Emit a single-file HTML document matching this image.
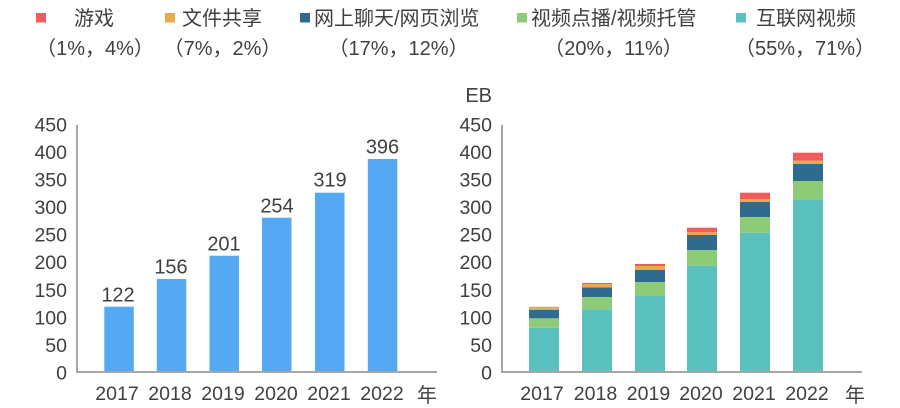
<!DOCTYPE html>
<html><head><meta charset="utf-8"><style>
html,body{margin:0;padding:0;background:#fff;}
svg{display:block;}
text{font-family:"Liberation Sans","Noto Sans CJK SC",sans-serif;fill:#404040;}
</style></head><body>
<svg width="900" height="408" viewBox="0 0 900 408" xmlns="http://www.w3.org/2000/svg">
<!-- Legend -->
<rect x="36" y="13" width="10" height="9.5" fill="#F05B5B"/>
<rect x="165" y="13" width="10" height="9.5" fill="#EBA94B"/>
<rect x="300" y="13" width="10" height="9.5" fill="#2F6B8F"/>
<rect x="517" y="13" width="10" height="9.5" fill="#8ECB78"/>
<rect x="736" y="13" width="10" height="9.5" fill="#5BC1BF"/>
<g font-size="20">
<text x="74" y="25">游戏</text>
<text x="182" y="25">文件共享</text>
<text x="314" y="25">网上聊天/网页浏览</text>
<text x="531" y="25">视频点播/视频托管</text>
<text x="756" y="25">互联网视频</text>
<text x="95" y="55" text-anchor="middle">（1%，4%）</text>
<text x="222.5" y="55" text-anchor="middle">（7%，2%）</text>
<text x="398.5" y="55" text-anchor="middle">（17%，12%）</text>
<text x="613.5" y="55" text-anchor="middle">（20%，11%）</text>
<text x="805" y="55" text-anchor="middle">（55%，71%）</text>
</g>

<!-- Left chart -->
<g fill="#55A9F2">
<rect x="104.3" y="306.7" width="29.5" height="65.3"/>
<rect x="156.8" y="279" width="29.5" height="93"/>
<rect x="209.5" y="255.7" width="29.5" height="116.3"/>
<rect x="262" y="217.7" width="29.5" height="154.3"/>
<rect x="315" y="192.7" width="29.5" height="179.3"/>
<rect x="367.8" y="159" width="29.5" height="213"/>
</g>
<g stroke="#A6A6A6" stroke-width="2" fill="none">
<line x1="77" y1="125" x2="77" y2="373"/>
<line x1="76" y1="372" x2="437" y2="372"/>
</g>
<g font-size="20" text-anchor="middle">
<text x="118" y="301.5">122</text>
<text x="171" y="273.5">156</text>
<text x="224" y="250.5">201</text>
<text x="277" y="212.3">254</text>
<text x="330" y="186.7">319</text>
<text x="382.5" y="153.5">396</text>
</g>
<g font-size="19.5" text-anchor="end">
<text x="67" y="131.5">450</text>
<text x="67" y="159">400</text>
<text x="67" y="186.6">350</text>
<text x="67" y="214.1">300</text>
<text x="67" y="241.7">250</text>
<text x="67" y="269.2">200</text>
<text x="67" y="296.8">150</text>
<text x="67" y="324.3">100</text>
<text x="67" y="351.9">50</text>
<text x="67" y="379.5">0</text>
</g>
<g font-size="19.5" text-anchor="middle">
<text x="117" y="400">2017</text>
<text x="170" y="400">2018</text>
<text x="223" y="400">2019</text>
<text x="276" y="400">2020</text>
<text x="329" y="400">2021</text>
<text x="382" y="400">2022</text>
</g>
<text x="417" y="402" font-size="20">年</text>

<!-- Right chart -->
<!-- 2017 -->
<rect x="529" y="327.7" width="30" height="44.3" fill="#5BC1BF"/>
<rect x="529" y="318.3" width="30" height="9.4" fill="#8ECB78"/>
<rect x="529" y="310" width="30" height="8.3" fill="#2F6B8F"/>
<rect x="529" y="306.7" width="30" height="3.3" fill="#EBA94B"/>
<!-- 2018 -->
<rect x="582" y="309.3" width="30" height="62.7" fill="#5BC1BF"/>
<rect x="582" y="297" width="30" height="12.3" fill="#8ECB78"/>
<rect x="582" y="287.3" width="30" height="9.7" fill="#2F6B8F"/>
<rect x="582" y="284" width="30" height="3.3" fill="#EBA94B"/>
<rect x="582" y="283" width="30" height="1" fill="#F05B5B"/>
<!-- 2019 -->
<rect x="635" y="296" width="30" height="76" fill="#5BC1BF"/>
<rect x="635" y="282" width="30" height="14" fill="#8ECB78"/>
<rect x="635" y="270" width="30" height="12" fill="#2F6B8F"/>
<rect x="635" y="266" width="30" height="4" fill="#EBA94B"/>
<rect x="635" y="264" width="30" height="2" fill="#F05B5B"/>
<!-- 2020 -->
<rect x="687" y="265.7" width="30" height="106.3" fill="#5BC1BF"/>
<rect x="687" y="250" width="30" height="15.7" fill="#8ECB78"/>
<rect x="687" y="235" width="30" height="15" fill="#2F6B8F"/>
<rect x="687" y="232.3" width="30" height="2.7" fill="#EBA94B"/>
<rect x="687" y="227.7" width="30" height="4.6" fill="#F05B5B"/>
<!-- 2021 -->
<rect x="740" y="232.7" width="30" height="139.3" fill="#5BC1BF"/>
<rect x="740" y="217" width="30" height="15.7" fill="#8ECB78"/>
<rect x="740" y="202" width="30" height="15" fill="#2F6B8F"/>
<rect x="740" y="199" width="30" height="3" fill="#EBA94B"/>
<rect x="740" y="192.7" width="30" height="6.3" fill="#F05B5B"/>
<!-- 2022 -->
<rect x="793" y="199.3" width="30" height="172.7" fill="#5BC1BF"/>
<rect x="793" y="181" width="30" height="18.3" fill="#8ECB78"/>
<rect x="793" y="164" width="30" height="17" fill="#2F6B8F"/>
<rect x="793" y="160.7" width="30" height="3.3" fill="#EBA94B"/>
<rect x="793" y="152.7" width="30" height="8" fill="#F05B5B"/>

<g stroke="#A6A6A6" stroke-width="2" fill="none">
<line x1="502" y1="125" x2="502" y2="373"/>
<line x1="501" y1="372" x2="862" y2="372"/>
</g>
<text x="492" y="102" font-size="20" text-anchor="end">EB</text>
<g font-size="19.5" text-anchor="end">
<text x="492" y="131.5">450</text>
<text x="492" y="159">400</text>
<text x="492" y="186.6">350</text>
<text x="492" y="214.1">300</text>
<text x="492" y="241.7">250</text>
<text x="492" y="269.2">200</text>
<text x="492" y="296.8">150</text>
<text x="492" y="324.3">100</text>
<text x="492" y="351.9">50</text>
<text x="492" y="379.5">0</text>
</g>
<g font-size="19.5" text-anchor="middle">
<text x="542" y="400">2017</text>
<text x="595.5" y="400">2018</text>
<text x="648.5" y="400">2019</text>
<text x="701" y="400">2020</text>
<text x="754" y="400">2021</text>
<text x="807" y="400">2022</text>
</g>
<text x="845" y="402" font-size="20">年</text>
</svg>
</body></html>
